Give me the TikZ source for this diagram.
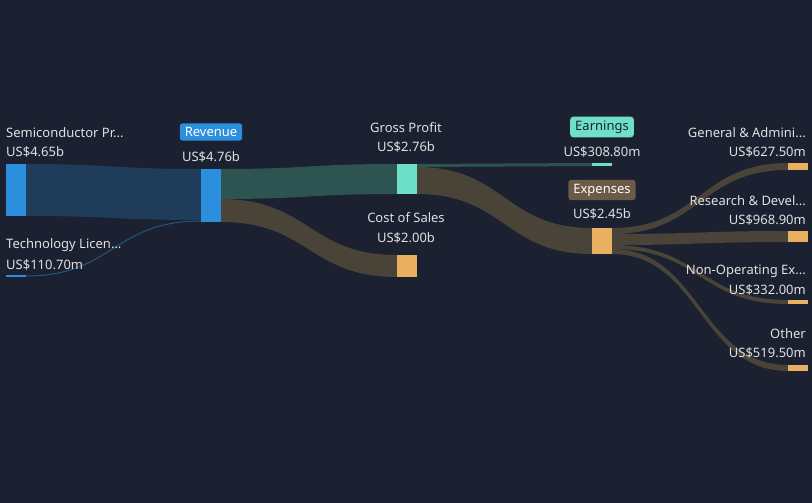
\documentclass[tikz,border=0pt]{standalone}
\usepackage{fontspec}
\setmainfont{Noto Sans}
\begin{document}
\begin{tikzpicture}[x=1pt,y=-1pt,
  lbl/.style={text=white!88!black,font=\fontsize{13}{15}\selectfont,inner sep=0pt},
  badge/.style={rounded corners=3pt,inner xsep=5pt,inner ysep=4pt,font=\fontsize{13}{15}\selectfont},
  bar/.style={draw=none}]
\definecolor{bg}{HTML}{1B2130}
\definecolor{cblue}{HTML}{2B8FDD}
\definecolor{cteal}{HTML}{6EE0C8}
\definecolor{ctan}{HTML}{E8B060}
\definecolor{fblue}{HTML}{1F3C5A}
\definecolor{fteal}{HTML}{2E5452}
\definecolor{fbrown}{HTML}{4A4438}
\definecolor{cbadge}{HTML}{6B5A45}
\useasboundingbox (0,0) rectangle (812,503);
\fill[bg] (0,0) rectangle (812,503);
\newcommand\myflow[7]{\fill[#7] (#1,#2) .. controls ({(#1+#4)/2},#2) and ({(#1+#4)/2},#5) .. (#4,#5) -- (#4,#6) .. controls ({(#1+#4)/2},#6) and ({(#1+#4)/2},#3) .. (#1,#3) -- cycle;}
% flows
\myflow{26}{164}{216}{201}{169}{220}{fblue}
\draw[fblue!70!cblue,line width=1pt] (26,276) .. controls (113,276) and (113,221) .. (201,221);
\myflow{221}{169}{199}{397}{164}{194}{fteal}
\myflow{221}{199}{222}{397}{255}{277}{fbrown}
\myflow{417}{164}{167}{592}{163}{166}{fteal}
\myflow{417}{167}{194}{592}{228}{254}{fbrown}
\myflow{612}{228}{234}{788}{163}{170}{fbrown}
\myflow{612}{234}{245}{788}{231}{242}{fbrown}
\myflow{612}{245}{249}{788}{300}{304}{fbrown}
\myflow{612}{249}{254}{788}{365}{371}{fbrown}
% bars
\fill[cblue] (6,164) rectangle (26,216) coordinate (semi);
\fill[cblue] (6,275) rectangle (26,277) coordinate (tech);
\fill[cblue] (201,169) rectangle (221,222) coordinate (rev);
\fill[cteal] (397,164) rectangle (417,194) coordinate (gp);
\fill[ctan] (397,255) rectangle (417,277) coordinate (cos);
\fill[cteal] (592,163) rectangle (612,166) coordinate (earn);
\fill[ctan] (592,228) rectangle (612,254) coordinate (exp);
\fill[ctan] (788,163) rectangle (808,170);
\fill[ctan] (788,231) rectangle (808,242);
\fill[ctan] (788,300) rectangle (808,304);
\fill[ctan] (788,365) rectangle (808,371);
% labels
\node[lbl,anchor=west] (l1) at (6,133) {Semiconductor Pr...};
\node[lbl,anchor=west] (v1) at (6,152) {US\$4.65b};
\node[lbl,anchor=west] (l2) at (6,245) {Technology Licen...};
\node[lbl,anchor=west] (v2) at (6,265) {US\$110.70m};
\node[badge,fill=cblue,text=white] (l3) at (211,132) {Revenue};
\node[lbl] (v3) at (211,157) {US\$4.76b};
\node[lbl] (l4) at (406,128) {Gross Profit};
\node[lbl] (v4) at (406,147) {US\$2.76b};
\node[lbl] (l5) at (406,218) {Cost of Sales};
\node[lbl] (v5) at (406,238) {US\$2.00b};
\node[badge,fill=cteal,text=bg] (l6) at (602,127) {Earnings};
\node[lbl] (v6) at (602,152) {US\$308.80m};
\node[badge,fill=cbadge,text=white] (l7) at (602,190) {Expenses};
\node[lbl] (v7) at (602,214) {US\$2.45b};
\node[lbl,anchor=east] (l8) at (806,133) {General \& Admini...};
\node[lbl,anchor=east] (v8) at (806,152) {US\$627.50m};
\node[lbl,anchor=east] (l9) at (806,201) {Research \& Devel...};
\node[lbl,anchor=east] (v9) at (806,220) {US\$968.90m};
\node[lbl,anchor=east] (l10) at (806,271) {Non-Operating Ex...};
\node[lbl,anchor=east] (v10) at (806,290) {US\$332.00m};
\node[lbl,anchor=east] (l11) at (806,334) {Other};
\node[lbl,anchor=east] (v11) at (806,353) {US\$519.50m};
\end{tikzpicture}
\end{document}
